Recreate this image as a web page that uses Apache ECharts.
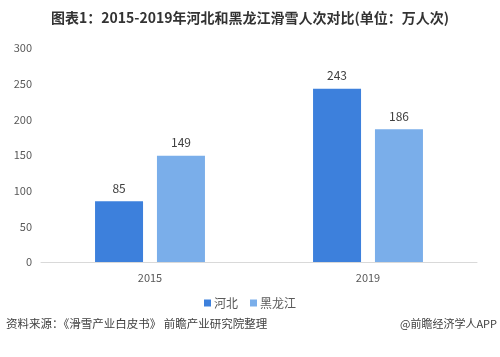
<!DOCTYPE html>
<html><head><meta charset="utf-8">
<script src="https://cdn.jsdelivr.net/npm/echarts@6/dist/echarts.min.js"></script>
<style>html,body{margin:0;padding:0;background:#fff}#c{width:500px;height:357px}</style>
</head><body><div id="c"></div>
<script>
var categories = ['2015', '2019'];
var hebei = [85, 243];
var heilongjiang = [149, 186];
var seriesNames = ['河北', '黑龙江'];
var yTicks = [0, 50, 100, 150, 200, 250, 300];

var font = '"Microsoft YaHei","Noto Sans CJK SC",sans-serif';
var chart = echarts.init(document.getElementById('c'));
chart.setOption({
  animation: false,
  textStyle: {fontFamily: font},
  title: {
    text: '图表1：2015-2019年河北和黑龙江滑雪人次对比(单位：万人次)',
    left: 'center', top: 6,
    textStyle: {fontSize: 14, fontWeight: 'bold', color: '#333', fontFamily: font}
  },
  grid: {left: 41, right: 23, top: 48, bottom: 95},
  legend: {
    data: seriesNames, bottom: 43, left: 'center',
    itemWidth: 7, itemHeight: 7, itemGap: 12,
    icon: 'rect',
    textStyle: {fontSize: 12, color: '#595959', fontFamily: font, padding: [0,0,0,-2]}
  },
  xAxis: {
    type: 'category', data: categories,
    axisLine: {lineStyle: {color: '#d9d9d9'}},
    axisTick: {show: false},
    axisLabel: {color: '#595959', fontSize: 11, margin: 10}
  },
  yAxis: {
    type: 'value', min: 0, max: 300, interval: 50,
    splitLine: {show: false},
    axisLine: {show: false}, axisTick: {show: false},
    axisLabel: {color: '#595959', fontSize: 11, margin: 9,
      formatter: function(v){ return yTicks.indexOf(v) >= 0 ? String(v) : ''; }}
  },
  series: [
    {name: seriesNames[0], type: 'bar', data: hebei, barWidth: 48, barGap: '29%',
     itemStyle: {color: '#3d80dc'},
     label: {show: true, position: 'top', distance: 7, color: '#404040', fontSize: 12}},
    {name: seriesNames[1], type: 'bar', data: heilongjiang, barWidth: 48,
     itemStyle: {color: '#7aaeea'},
     label: {show: true, position: 'top', distance: 7, color: '#404040', fontSize: 12}}
  ],
  graphic: [
    {type: 'text', left: 6, top: 318, style: {text: '资料来源：《滑雪产业白皮书》 前瞻产业研究院整理', fontSize: 11.5, fill: '#404040', fontFamily: font}},
    {type: 'text', right: 3, top: 318, style: {text: '@前瞻经济学人APP', fontSize: 11, fill: '#404040', fontFamily: font}}
  ]
});
</script></body></html>
